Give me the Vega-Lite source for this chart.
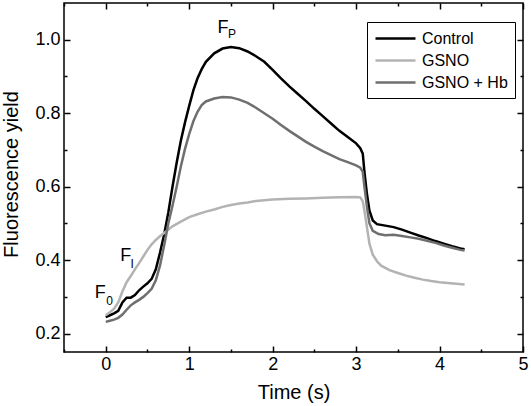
{
  "$schema": "https://vega.github.io/schema/vega-lite/v6.json",
  "width": 459,
  "height": 349,
  "autosize": {"type": "none"},
  "padding": {"left": 64, "top": 3, "right": 8, "bottom": 54},
  "background": "white",
  "config": {
    "font": "Liberation Sans",
    "view": {"stroke": "black", "strokeWidth": 1.5},
    "axis": {"grid": false, "domain": false, "tickColor": "black", "tickWidth": 1.5, "labelColor": "black", "titleColor": "black", "labelFlush": false, "labelOverlap": false}
  },
  "datasets": {
    "curves": [
      {"t": 0, "f": 0.245, "s": "Control"}, {"t": 0.05, "f": 0.25, "s": "Control"}, {"t": 0.1, "f": 0.255, "s": "Control"}, {"t": 0.15, "f": 0.262, "s": "Control"}, {"t": 0.2, "f": 0.285, "s": "Control"}, {"t": 0.25, "f": 0.298, "s": "Control"}, {"t": 0.3, "f": 0.298, "s": "Control"}, {"t": 0.35, "f": 0.305, "s": "Control"}, {"t": 0.4, "f": 0.318, "s": "Control"}, {"t": 0.45, "f": 0.328, "s": "Control"}, {"t": 0.5, "f": 0.337, "s": "Control"}, {"t": 0.55, "f": 0.349, "s": "Control"}, {"t": 0.6, "f": 0.375, "s": "Control"}, {"t": 0.65, "f": 0.42, "s": "Control"}, {"t": 0.7, "f": 0.47, "s": "Control"}, {"t": 0.75, "f": 0.53, "s": "Control"}, {"t": 0.8, "f": 0.6, "s": "Control"}, {"t": 0.85, "f": 0.665, "s": "Control"}, {"t": 0.9, "f": 0.725, "s": "Control"}, {"t": 0.95, "f": 0.775, "s": "Control"}, {"t": 1.0, "f": 0.82, "s": "Control"}, {"t": 1.05, "f": 0.862, "s": "Control"}, {"t": 1.1, "f": 0.895, "s": "Control"}, {"t": 1.15, "f": 0.92, "s": "Control"}, {"t": 1.2, "f": 0.94, "s": "Control"}, {"t": 1.3, "f": 0.963, "s": "Control"}, {"t": 1.4, "f": 0.976, "s": "Control"}, {"t": 1.5, "f": 0.98, "s": "Control"}, {"t": 1.6, "f": 0.977, "s": "Control"}, {"t": 1.7, "f": 0.968, "s": "Control"}, {"t": 1.8, "f": 0.955, "s": "Control"}, {"t": 1.9, "f": 0.94, "s": "Control"}, {"t": 2.0, "f": 0.918, "s": "Control"}, {"t": 2.1, "f": 0.895, "s": "Control"}, {"t": 2.2, "f": 0.873, "s": "Control"}, {"t": 2.3, "f": 0.853, "s": "Control"}, {"t": 2.4, "f": 0.833, "s": "Control"}, {"t": 2.5, "f": 0.812, "s": "Control"}, {"t": 2.6, "f": 0.792, "s": "Control"}, {"t": 2.7, "f": 0.772, "s": "Control"}, {"t": 2.8, "f": 0.752, "s": "Control"}, {"t": 2.9, "f": 0.735, "s": "Control"}, {"t": 3.0, "f": 0.718, "s": "Control"}, {"t": 3.05, "f": 0.705, "s": "Control"}, {"t": 3.08, "f": 0.69, "s": "Control"}, {"t": 3.1, "f": 0.64, "s": "Control"}, {"t": 3.13, "f": 0.58, "s": "Control"}, {"t": 3.16, "f": 0.535, "s": "Control"}, {"t": 3.2, "f": 0.508, "s": "Control"}, {"t": 3.25, "f": 0.498, "s": "Control"}, {"t": 3.35, "f": 0.494, "s": "Control"}, {"t": 3.45, "f": 0.49, "s": "Control"}, {"t": 3.55, "f": 0.483, "s": "Control"}, {"t": 3.65, "f": 0.475, "s": "Control"}, {"t": 3.75, "f": 0.467, "s": "Control"}, {"t": 3.85, "f": 0.46, "s": "Control"}, {"t": 3.95, "f": 0.452, "s": "Control"}, {"t": 4.05, "f": 0.445, "s": "Control"}, {"t": 4.15, "f": 0.438, "s": "Control"}, {"t": 4.25, "f": 0.432, "s": "Control"}, {"t": 4.3, "f": 0.43, "s": "Control"},

      {"t": 0, "f": 0.25, "s": "GSNO"}, {"t": 0.05, "f": 0.258, "s": "GSNO"}, {"t": 0.1, "f": 0.268, "s": "GSNO"}, {"t": 0.15, "f": 0.285, "s": "GSNO"}, {"t": 0.2, "f": 0.315, "s": "GSNO"}, {"t": 0.25, "f": 0.34, "s": "GSNO"}, {"t": 0.3, "f": 0.357, "s": "GSNO"}, {"t": 0.35, "f": 0.375, "s": "GSNO"}, {"t": 0.4, "f": 0.392, "s": "GSNO"}, {"t": 0.45, "f": 0.41, "s": "GSNO"}, {"t": 0.5, "f": 0.428, "s": "GSNO"}, {"t": 0.55, "f": 0.443, "s": "GSNO"}, {"t": 0.6, "f": 0.455, "s": "GSNO"}, {"t": 0.65, "f": 0.465, "s": "GSNO"}, {"t": 0.7, "f": 0.474, "s": "GSNO"}, {"t": 0.8, "f": 0.492, "s": "GSNO"}, {"t": 0.9, "f": 0.505, "s": "GSNO"}, {"t": 1.0, "f": 0.517, "s": "GSNO"}, {"t": 1.1, "f": 0.525, "s": "GSNO"}, {"t": 1.2, "f": 0.532, "s": "GSNO"}, {"t": 1.3, "f": 0.538, "s": "GSNO"}, {"t": 1.4, "f": 0.545, "s": "GSNO"}, {"t": 1.5, "f": 0.55, "s": "GSNO"}, {"t": 1.6, "f": 0.554, "s": "GSNO"}, {"t": 1.7, "f": 0.557, "s": "GSNO"}, {"t": 1.8, "f": 0.561, "s": "GSNO"}, {"t": 1.9, "f": 0.563, "s": "GSNO"}, {"t": 2.0, "f": 0.565, "s": "GSNO"}, {"t": 2.2, "f": 0.567, "s": "GSNO"}, {"t": 2.4, "f": 0.568, "s": "GSNO"}, {"t": 2.6, "f": 0.57, "s": "GSNO"}, {"t": 2.8, "f": 0.571, "s": "GSNO"}, {"t": 3.0, "f": 0.572, "s": "GSNO"}, {"t": 3.05, "f": 0.571, "s": "GSNO"}, {"t": 3.08, "f": 0.56, "s": "GSNO"}, {"t": 3.1, "f": 0.535, "s": "GSNO"}, {"t": 3.13, "f": 0.49, "s": "GSNO"}, {"t": 3.16, "f": 0.445, "s": "GSNO"}, {"t": 3.2, "f": 0.415, "s": "GSNO"}, {"t": 3.25, "f": 0.397, "s": "GSNO"}, {"t": 3.3, "f": 0.385, "s": "GSNO"}, {"t": 3.4, "f": 0.373, "s": "GSNO"}, {"t": 3.5, "f": 0.365, "s": "GSNO"}, {"t": 3.6, "f": 0.358, "s": "GSNO"}, {"t": 3.7, "f": 0.352, "s": "GSNO"}, {"t": 3.8, "f": 0.347, "s": "GSNO"}, {"t": 3.9, "f": 0.343, "s": "GSNO"}, {"t": 4.0, "f": 0.34, "s": "GSNO"}, {"t": 4.1, "f": 0.338, "s": "GSNO"}, {"t": 4.2, "f": 0.336, "s": "GSNO"}, {"t": 4.3, "f": 0.334, "s": "GSNO"},

      {"t": 0, "f": 0.232, "s": "GSNO + Hb"}, {"t": 0.05, "f": 0.235, "s": "GSNO + Hb"}, {"t": 0.1, "f": 0.238, "s": "GSNO + Hb"}, {"t": 0.15, "f": 0.243, "s": "GSNO + Hb"}, {"t": 0.2, "f": 0.252, "s": "GSNO + Hb"}, {"t": 0.25, "f": 0.265, "s": "GSNO + Hb"}, {"t": 0.3, "f": 0.277, "s": "GSNO + Hb"}, {"t": 0.35, "f": 0.285, "s": "GSNO + Hb"}, {"t": 0.4, "f": 0.292, "s": "GSNO + Hb"}, {"t": 0.45, "f": 0.3, "s": "GSNO + Hb"}, {"t": 0.5, "f": 0.31, "s": "GSNO + Hb"}, {"t": 0.55, "f": 0.322, "s": "GSNO + Hb"}, {"t": 0.6, "f": 0.345, "s": "GSNO + Hb"}, {"t": 0.65, "f": 0.385, "s": "GSNO + Hb"}, {"t": 0.7, "f": 0.44, "s": "GSNO + Hb"}, {"t": 0.75, "f": 0.5, "s": "GSNO + Hb"}, {"t": 0.8, "f": 0.548, "s": "GSNO + Hb"}, {"t": 0.85, "f": 0.6, "s": "GSNO + Hb"}, {"t": 0.9, "f": 0.655, "s": "GSNO + Hb"}, {"t": 0.95, "f": 0.703, "s": "GSNO + Hb"}, {"t": 1.0, "f": 0.743, "s": "GSNO + Hb"}, {"t": 1.05, "f": 0.778, "s": "GSNO + Hb"}, {"t": 1.1, "f": 0.804, "s": "GSNO + Hb"}, {"t": 1.15, "f": 0.822, "s": "GSNO + Hb"}, {"t": 1.2, "f": 0.832, "s": "GSNO + Hb"}, {"t": 1.3, "f": 0.84, "s": "GSNO + Hb"}, {"t": 1.4, "f": 0.844, "s": "GSNO + Hb"}, {"t": 1.5, "f": 0.843, "s": "GSNO + Hb"}, {"t": 1.6, "f": 0.837, "s": "GSNO + Hb"}, {"t": 1.7, "f": 0.828, "s": "GSNO + Hb"}, {"t": 1.8, "f": 0.815, "s": "GSNO + Hb"}, {"t": 1.9, "f": 0.8, "s": "GSNO + Hb"}, {"t": 2.0, "f": 0.785, "s": "GSNO + Hb"}, {"t": 2.1, "f": 0.768, "s": "GSNO + Hb"}, {"t": 2.2, "f": 0.752, "s": "GSNO + Hb"}, {"t": 2.3, "f": 0.737, "s": "GSNO + Hb"}, {"t": 2.4, "f": 0.722, "s": "GSNO + Hb"}, {"t": 2.5, "f": 0.709, "s": "GSNO + Hb"}, {"t": 2.6, "f": 0.697, "s": "GSNO + Hb"}, {"t": 2.7, "f": 0.686, "s": "GSNO + Hb"}, {"t": 2.8, "f": 0.675, "s": "GSNO + Hb"}, {"t": 2.9, "f": 0.667, "s": "GSNO + Hb"}, {"t": 3.0, "f": 0.658, "s": "GSNO + Hb"}, {"t": 3.05, "f": 0.652, "s": "GSNO + Hb"}, {"t": 3.08, "f": 0.64, "s": "GSNO + Hb"}, {"t": 3.1, "f": 0.6, "s": "GSNO + Hb"}, {"t": 3.13, "f": 0.545, "s": "GSNO + Hb"}, {"t": 3.16, "f": 0.5, "s": "GSNO + Hb"}, {"t": 3.2, "f": 0.48, "s": "GSNO + Hb"}, {"t": 3.27, "f": 0.471, "s": "GSNO + Hb"}, {"t": 3.35, "f": 0.468, "s": "GSNO + Hb"}, {"t": 3.45, "f": 0.469, "s": "GSNO + Hb"}, {"t": 3.55, "f": 0.466, "s": "GSNO + Hb"}, {"t": 3.65, "f": 0.462, "s": "GSNO + Hb"}, {"t": 3.75, "f": 0.458, "s": "GSNO + Hb"}, {"t": 3.85, "f": 0.453, "s": "GSNO + Hb"}, {"t": 3.95, "f": 0.447, "s": "GSNO + Hb"}, {"t": 4.05, "f": 0.44, "s": "GSNO + Hb"}, {"t": 4.15, "f": 0.434, "s": "GSNO + Hb"}, {"t": 4.25, "f": 0.428, "s": "GSNO + Hb"}, {"t": 4.3, "f": 0.426, "s": "GSNO + Hb"}
    ],
    "mainlabels": [
      {"t": 1.339, "f": 1.018, "txt": "F"},
      {"t": 0.173, "f": 0.398, "txt": "F"},
      {"t": -0.133, "f": 0.298, "txt": "F"}
    ],
    "sublabels": [
      {"t": 1.464, "f": 1.004, "txt": "P"},
      {"t": 0.298, "f": 0.38, "txt": "I"},
      {"t": 0.006, "f": 0.278, "txt": "0"}
    ]
  },
  "resolve": {"axis": {"x": "independent", "y": "independent"}},
  "layer": [
    {
      "data": {"name": "curves"},
      "mark": {"type": "line", "strokeWidth": 2.5, "interpolate": "linear"},
      "encoding": {
        "x": {
          "field": "t", "type": "quantitative",
          "scale": {"domain": [-0.5, 5], "nice": false, "zero": false},
          "axis": {
            "orient": "bottom",
            "values": [-0.5, 0, 0.5, 1, 1.5, 2, 2.5, 3, 3.5, 4, 4.5, 5],
            "labelExpr": "datum.value % 1 === 0 ? format(datum.value, 'd') : ''",
            "tickSize": {"condition": {"test": "datum.value % 1 === 0", "value": -6}, "value": -3},
            "labelPadding": 9.7,
            "labelFontSize": 18,
            "title": "Time (s)",
            "titleFontSize": 20,
            "titleFontWeight": "normal",
            "titleBaseline": "alphabetic",
            "titleX": 229.5,
            "titleY": 46
          }
        },
        "y": {
          "field": "f", "type": "quantitative",
          "scale": {"domain": [0.15, 1.1], "nice": false, "zero": false},
          "axis": {
            "orient": "left",
            "values": [0.2, 0.3, 0.4, 0.5, 0.6, 0.7, 0.8, 0.9, 1.0],
            "labelExpr": "round(datum.value * 10) % 2 === 0 ? format(datum.value, '.1f') : ''",
            "tickSize": {"condition": {"test": "round(datum.value * 10) % 2 === 0", "value": -6}, "value": -3},
            "labelPadding": 10,
            "labelFontSize": 18,
            "title": "Fluorescence yield",
            "titleFontSize": 20,
            "titleFontWeight": "normal",
            "titleBaseline": "alphabetic",
            "titleAngle": -90,
            "titleX": -46.7,
            "titleY": 171
          }
        },
        "color": {
          "field": "s", "type": "nominal",
          "scale": {"domain": ["Control", "GSNO", "GSNO + Hb"], "range": ["#000000", "#b3b3b3", "#6f6f6f"]},
          "legend": {
            "title": null,
            "orient": "none",
            "legendX": 303,
            "legendY": 19,
            "direction": "vertical",
            "strokeColor": "black",
            "fillColor": "white",
            "padding": 7,
            "symbolType": "M-1,0H4",
            "symbolSize": 256,
            "symbolStrokeWidth": 2.5,
            "symbolFillColor": "transparent",
            "labelFontSize": 16,
            "labelColor": "black",
            "labelOffset": 29,
            "rowPadding": 4
          }
        }
      }
    },
    {
      "data": {"name": "mainlabels"},
      "mark": {"type": "text", "align": "left", "baseline": "alphabetic", "fontSize": 18, "color": "black"},
      "encoding": {
        "x": {
          "field": "t", "type": "quantitative",
          "scale": {"domain": [-0.5, 5], "nice": false, "zero": false},
          "axis": {
            "orient": "top",
            "values": [-0.5, 0, 0.5, 1, 1.5, 2, 2.5, 3, 3.5, 4, 4.5, 5],
            "labels": false,
            "title": null,
            "tickSize": {"condition": {"test": "datum.value % 1 === 0", "value": -6}, "value": -3}
          }
        },
        "y": {
          "field": "f", "type": "quantitative",
          "scale": {"domain": [0.15, 1.1], "nice": false, "zero": false},
          "axis": {
            "orient": "right",
            "values": [0.2, 0.3, 0.4, 0.5, 0.6, 0.7, 0.8, 0.9, 1.0],
            "labels": false,
            "title": null,
            "tickSize": {"condition": {"test": "round(datum.value * 10) % 2 === 0", "value": -6}, "value": -3}
          }
        },
        "text": {"field": "txt"}
      }
    },
    {
      "data": {"name": "sublabels"},
      "mark": {"type": "text", "align": "left", "baseline": "alphabetic", "fontSize": 12, "color": "black"},
      "encoding": {
        "x": {"field": "t", "type": "quantitative", "scale": {"domain": [-0.5, 5], "nice": false, "zero": false}, "axis": null},
        "y": {"field": "f", "type": "quantitative", "scale": {"domain": [0.15, 1.1], "nice": false, "zero": false}, "axis": null},
        "text": {"field": "txt"}
      }
    }
  ]
}
